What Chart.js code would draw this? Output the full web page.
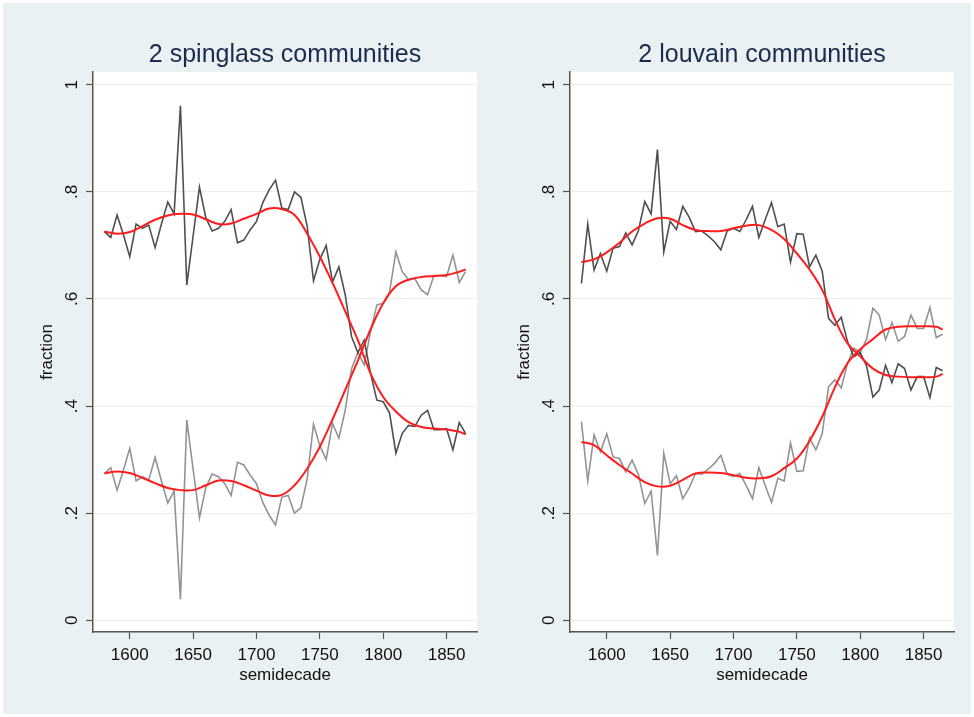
<!DOCTYPE html>
<html>
<head>
<meta charset="utf-8">
<title>spinglass / louvain communities</title>
<script src="https://cdn.jsdelivr.net/npm/chart.js@4.4.1/dist/chart.umd.min.js"></script>
<style>
  body { margin: 0; background: #fff; width: 974px; height: 717px; position: relative; overflow: hidden; }
  #frame { position: absolute; left: 3px; top: 3px; width: 968px; height: 711px; background: #e9f1f3; }
  canvas { position: absolute; top: 0; }
  #left-chart { left: 0; }
  #right-chart { left: 477px; }
</style>
</head>
<body>
<div id="frame"></div>
<canvas id="left-chart" width="487" height="717"></canvas>
<canvas id="right-chart" width="487" height="717"></canvas>

<script>
// Data
const semidecades = [1580, 1585, 1590, 1595, 1600, 1605, 1610, 1615, 1620, 1625,
  1630, 1635, 1640, 1645, 1650, 1655, 1660, 1665, 1670, 1675,
  1680, 1685, 1690, 1695, 1700, 1705, 1710, 1715, 1720, 1725,
  1730, 1735, 1740, 1745, 1750, 1755, 1760, 1765, 1770, 1775,
  1780, 1785, 1790, 1795, 1800, 1805, 1810, 1815, 1820, 1825,
  1830, 1835, 1840, 1845, 1850, 1855, 1860, 1865];

// spinglass: community A (dark) and community B (grey)
const spinglassA = [0.726, 0.715, 0.757, 0.720, 0.679, 0.740, 0.732, 0.738, 0.696, 0.740,
  0.781, 0.759, 0.961, 0.626, 0.718, 0.809, 0.752, 0.727, 0.732, 0.745,
  0.767, 0.705, 0.710, 0.729, 0.745, 0.780, 0.804, 0.822, 0.770, 0.767,
  0.800, 0.790, 0.736, 0.634, 0.674, 0.700, 0.632, 0.660, 0.608, 0.530,
  0.500, 0.523, 0.461, 0.411, 0.408, 0.387, 0.312, 0.349, 0.364, 0.362,
  0.383, 0.392, 0.356, 0.356, 0.358, 0.318, 0.369, 0.349];
const spinglassB = [0.274, 0.285, 0.243, 0.280, 0.321, 0.260, 0.268, 0.262, 0.304, 0.260,
  0.219, 0.241, 0.039, 0.374, 0.282, 0.191, 0.248, 0.273, 0.268, 0.255,
  0.233, 0.295, 0.290, 0.271, 0.255, 0.220, 0.196, 0.178, 0.230, 0.233,
  0.200, 0.210, 0.264, 0.366, 0.326, 0.300, 0.368, 0.340, 0.392, 0.470,
  0.500, 0.477, 0.539, 0.589, 0.592, 0.613, 0.688, 0.651, 0.636, 0.638,
  0.617, 0.608, 0.644, 0.644, 0.642, 0.682, 0.631, 0.651];

// louvain: community A (dark) and community B (grey)
const louvainA = [0.629, 0.740, 0.654, 0.685, 0.652, 0.695, 0.698, 0.723, 0.701, 0.728,
  0.782, 0.759, 0.879, 0.688, 0.745, 0.730, 0.773, 0.753, 0.726, 0.727,
  0.718, 0.707, 0.692, 0.727, 0.732, 0.726, 0.748, 0.773, 0.715, 0.748,
  0.780, 0.735, 0.740, 0.669, 0.722, 0.721, 0.660, 0.682, 0.652, 0.564,
  0.551, 0.566, 0.520, 0.492, 0.500, 0.475, 0.417, 0.430, 0.476, 0.444,
  0.479, 0.470, 0.430, 0.455, 0.455, 0.416, 0.472, 0.466];
const louvainB = [0.371, 0.260, 0.346, 0.315, 0.348, 0.305, 0.302, 0.277, 0.299, 0.272,
  0.218, 0.241, 0.121, 0.312, 0.255, 0.270, 0.227, 0.247, 0.274, 0.273,
  0.282, 0.293, 0.308, 0.273, 0.268, 0.274, 0.252, 0.227, 0.285, 0.252,
  0.220, 0.265, 0.260, 0.331, 0.278, 0.279, 0.340, 0.318, 0.348, 0.436,
  0.449, 0.434, 0.480, 0.508, 0.500, 0.525, 0.583, 0.570, 0.524, 0.556,
  0.521, 0.530, 0.570, 0.545, 0.545, 0.584, 0.528, 0.534];

// smoothed (red) curves
const fitYears = [1580, 1590, 1600, 1610, 1620, 1630, 1640, 1650, 1660, 1670,
  1680, 1690, 1700, 1710, 1720, 1730, 1740, 1750, 1760, 1770,
  1780, 1790, 1800, 1810, 1820, 1830, 1840, 1850, 1860, 1865];
const spinglassFitA = [0.726, 0.722, 0.725, 0.736, 0.748, 0.756, 0.759, 0.758, 0.749, 0.740,
  0.741, 0.750, 0.759, 0.769, 0.768, 0.757, 0.722, 0.679, 0.630, 0.577,
  0.523, 0.461, 0.417, 0.390, 0.370, 0.361, 0.358, 0.356, 0.352, 0.347];
const spinglassFitB = [0.274, 0.278, 0.275, 0.266, 0.256, 0.247, 0.243, 0.243, 0.252, 0.261,
  0.260, 0.252, 0.242, 0.233, 0.234, 0.252, 0.283, 0.324, 0.375, 0.430,
  0.485, 0.543, 0.592, 0.624, 0.636, 0.641, 0.643, 0.645, 0.651, 0.655];
const louvainFitA = [0.669, 0.674, 0.687, 0.705, 0.726, 0.741, 0.751, 0.750, 0.738, 0.729,
  0.727, 0.727, 0.732, 0.737, 0.738, 0.729, 0.712, 0.685, 0.655, 0.617,
  0.562, 0.517, 0.493, 0.470, 0.458, 0.455, 0.454, 0.454, 0.455, 0.460];
const louvainFitB = [0.333, 0.327, 0.308, 0.290, 0.274, 0.258, 0.250, 0.251, 0.262, 0.274,
  0.276, 0.275, 0.271, 0.266, 0.265, 0.269, 0.284, 0.302, 0.335, 0.380,
  0.435, 0.480, 0.506, 0.525, 0.543, 0.548, 0.549, 0.549, 0.548, 0.543];

// axes
const xTickValues = [1600, 1650, 1700, 1750, 1800, 1850];
const xTickLabels = ['1600', '1650', '1700', '1750', '1800', '1850'];
const yTickValues = [0, 0.2, 0.4, 0.6, 0.8, 1];
const yTickLabels = ['0', '.2', '.4', '.6', '.8', '1'];

Chart.defaults.font.family = '"Liberation Sans", Arial, Helvetica, sans-serif';
Chart.defaults.color = '#111';

// white plot region
const plotBackground = {
  id: 'plotBackground',
  beforeDraw(chart) {
    const a = chart.chartArea;
    const c = chart.ctx;
    c.save();
    c.fillStyle = '#ffffff';
    c.fillRect(a.left, a.top, a.right - a.left, a.bottom - a.top);
    c.restore();
  }
};

function toPoints(xs, ys) {
  return xs.map((x, i) => ({ x: x, y: ys[i] }));
}

function drawPanel(canvasId, titleText, seriesA, seriesB, fitA, fitB) {
  const ctx = document.getElementById(canvasId).getContext('2d');
  return new Chart(ctx, {
    type: 'line',
    data: {
      datasets: [
        { data: toPoints(fitYears, fitA), borderColor: '#ff1c1c', borderWidth: 2, tension: 0.4, pointRadius: 0 },
        { data: toPoints(fitYears, fitB), borderColor: '#ff1c1c', borderWidth: 2, tension: 0.4, pointRadius: 0 },
        { data: toPoints(semidecades, seriesA), borderColor: 'rgba(60,60,60,0.9)', borderWidth: 1.6, tension: 0, pointRadius: 0 },
        { data: toPoints(semidecades, seriesB), borderColor: 'rgba(135,135,135,0.9)', borderWidth: 1.6, tension: 0, pointRadius: 0 }
      ]
    },
    options: {
      responsive: false,
      devicePixelRatio: 1,
      animation: false,
      events: [],
      layout: { padding: { left: 0, right: 10, top: 0, bottom: 0 } },
      plugins: {
        legend: { display: false },
        tooltip: { enabled: false },
        title: {
          display: true,
          text: titleText,
          fullSize: false,
          color: '#1d2a4d',
          font: { size: 25, weight: 'normal' },
          padding: { top: 40, bottom: 2 }
        }
      },
      scales: {
        x: {
          type: 'linear',
          min: 1571,
          max: 1874,
          afterBuildTicks: (scale) => { scale.ticks = xTickValues.map(v => ({ value: v })); },
          afterFit: (scale) => { scale.height = 85; },
          ticks: {
            font: { size: 17 },
            color: '#111',
            padding: 6,
            maxRotation: 0,
            callback: (value, index) => xTickLabels[index]
          },
          grid: { drawOnChartArea: false, drawTicks: true, tickLength: 7, tickColor: '#555', tickWidth: 1.2 },
          border: { display: true, color: '#555', width: 1.5 },
          title: { display: true, text: 'semidecade', font: { size: 17 }, color: '#111', padding: { top: 0, bottom: 31 } }
        },
        y: {
          type: 'linear',
          min: -0.022,
          max: 1.024,
          afterBuildTicks: (scale) => { scale.ticks = yTickValues.map(v => ({ value: v })); },
          afterFit: (scale) => { scale.width = 93; },
          ticks: {
            font: { size: 17 },
            color: '#111',
            padding: 7,
            minRotation: 90,
            maxRotation: 90,
            crossAlign: 'center',
            callback: (value, index) => yTickLabels[index]
          },
          grid: { color: '#ececec', lineWidth: 1, drawTicks: true, tickLength: 7, tickColor: '#555', tickWidth: 1.2 },
          border: { display: true, color: '#555', width: 1.5 },
          title: { display: true, text: 'fraction', font: { size: 17 }, color: '#111', padding: { top: 37, bottom: 0 } }
        }
      }
    },
    plugins: [plotBackground]
  });
}

drawPanel('left-chart', '2 spinglass communities', spinglassA, spinglassB, spinglassFitA, spinglassFitB);
drawPanel('right-chart', '2 louvain communities', louvainA, louvainB, louvainFitA, louvainFitB);
</script>
</body>
</html>
